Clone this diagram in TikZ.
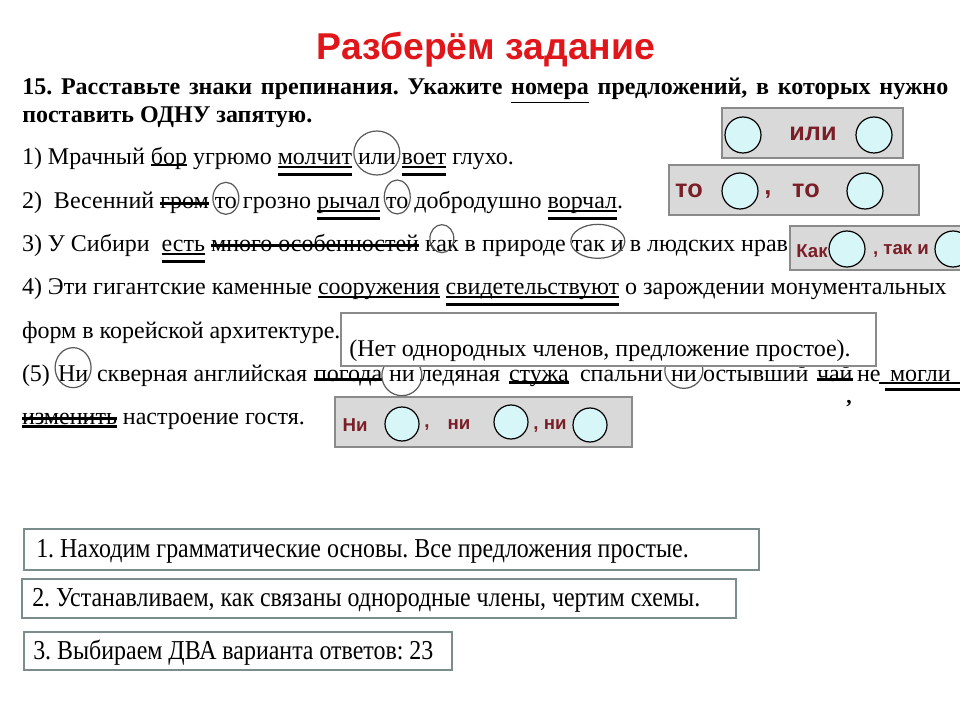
\documentclass[tikz,border=0pt]{standalone}
\usepackage{fontspec}
\setmainfont{Liberation Serif}
\newfontfamily\arialf{Liberation Sans}
\newfontfamily\condf[FakeStretch=0.875]{Liberation Serif}
\usetikzlibrary{shapes.geometric}
\definecolor{titlered}{HTML}{E0161B}
\definecolor{maroonc}{HTML}{7A1F27}
\definecolor{boxgray}{HTML}{D9D9D9}
\definecolor{boxedge}{HTML}{8A8A8A}
\definecolor{bubblec}{HTML}{D6F6F8}
\definecolor{stepedge}{HTML}{7A8C8C}
\frenchspacing
\newcommand\wsp{\ \null}
\newcommand\sline[2]{\draw[ul] ([yshift=#2]#1.base west) -- ([yshift=#2]#1.base east);}
\newcommand\dline[1]{\sline{#1}{-1.5pt}\sline{#1}{-7pt}}
\begin{document}
\begin{tikzpicture}[x=0.75pt,y=-0.75pt,
  w/.style={anchor=base west, inner sep=0pt, outer sep=0pt, font=\fontsize{18}{22}\selectfont},
  ul/.style={line width=1.8pt, black},
  oval/.style={draw=black!65, line width=0.9pt},
  schbox/.style={draw=boxedge, fill=boxgray, line width=1.2pt},
  bub/.style={circle, draw=black, fill=bubblec, line width=0.9pt, inner sep=0pt, minimum size=27pt},
  schtxt/.style={text=maroonc, font=\arialf\bfseries\fontsize{19}{22}\selectfont, inner sep=0pt},
  smtxt/.style={text=maroonc, font=\arialf\bfseries\fontsize{14}{17}\selectfont, inner sep=0pt},
  stepbox/.style={draw=stepedge, fill=white, line width=1pt},
  steptxt/.style={anchor=west, inner sep=0pt, font=\condf\fontsize{20.5}{24}\selectfont}
]
\fill[white] (0,0) rectangle (960,720);
\clip (0,0) rectangle (960,720);

% title
\node[font=\arialf\bfseries\fontsize{28}{32}\selectfont, text=titlered] (title) at (486,50) {Разберём задание};

% header
\node[anchor=base west, inner sep=0pt, font=\bfseries\fontsize{18}{22}\selectfont] (h1) at (22,95)
  {\makebox[694.5pt][s]{15. Расставьте знаки препинания. Укажите \underline{номера} предложений, в которых нужно}};
\node[anchor=base west, inner sep=0pt, font=\bfseries\fontsize{18}{22}\selectfont] (h2) at (22,123) {поставить ОДНУ запятую.};

% sentence 1
\node[w] (s1a) at (22,165) {1) Мрачный\wsp};
\node[w] (s1bor) at (s1a.base east) {бор};
\node[w] (s1b) at (s1bor.base east) {\ угрюмо\wsp};
\node[w] (s1mol) at (s1b.base east) {молчит};
\node[w] (s1ili) at (s1mol.base east) {\ или\wsp};
\node[w] (s1voet) at (s1ili.base east) {воет};
\node[w] (s1c) at (s1voet.base east) {\ глухо.};
\sline{s1bor}{0pt}
\dline{s1mol}
\dline{s1voet}
\draw[oval] ([yshift=9pt]s1ili.base) ellipse [x radius=23, y radius=22];

% sentence 2
\node[w] (s2a) at (22,209) {2)\ \ Весенний\wsp};
\node[w] (s2grom) at (s2a.base east) {гром};
\node[w] (s2to1) at (s2grom.base east) {\ то\wsp};
\node[w] (s2b) at (s2to1.base east) {грозно\wsp};
\node[w] (s2ryc) at (s2b.base east) {рычал};
\node[w] (s2to2) at (s2ryc.base east) {\ то\wsp};
\node[w] (s2c) at (s2to2.base east) {добродушно\wsp};
\node[w] (s2vor) at (s2c.base east) {ворчал};
\node[w] (s2d) at (s2vor.base east) {.};
\sline{s2grom}{4pt}
\dline{s2ryc}
\dline{s2vor}
\draw[oval] ([yshift=8pt]s2to1.base) ellipse [x radius=13, y radius=16];
\draw[oval] ([yshift=9pt]s2to2.base) ellipse [x radius=13, y radius=17];

% sentence 3
\node[w] (s3a) at (22,252) {3) У Сибири\ \wsp};
\node[w] (s3est) at (s3a.base east) {есть};
\node[w] (s3sp) at (s3est.base east) {\wsp};
\node[w] (s3mn) at (s3sp.base east) {много особенностей};
\node[w] (s3kak) at (s3mn.base east) {\ как\wsp};
\node[w] (s3b) at (s3kak.base east) {в природе\wsp};
\node[w] (s3tak) at (s3b.base east) {так и};
\node[w] (s3c) at (s3tak.base east) {\ в людских нрав};
\dline{s3est}
\sline{s3mn}{5pt}
\draw[oval] ([yshift=10pt]s3kak.base) ellipse [x radius=12, y radius=14];
\draw[oval] ([yshift=8pt]s3tak.base) ellipse [x radius=27, y radius=17];

% sentence 4
\node[w] (s4a) at (22,295) {4) Эти гигантские каменные\wsp};
\node[w] (s4soor) at (s4a.base east) {сооружения};
\node[w] (s4sp) at (s4soor.base east) {\wsp};
\node[w] (s4svid) at (s4sp.base east) {свидетельствуют};
\node[w] (s4b) at (s4svid.base east) {\ о зарождении монументальных};
\sline{s4soor}{-1.5pt}
\dline{s4svid}
\node[w] (s4c) at (22,338) {форм в корейской архитектуре.};

% sentence 5 (justified line: words at fixed places)
\node[w] (s5a) at (22,381) {(5)};
\node[w] (s5ni1) at (58,381) {Ни};
\node[w] (s5b) at (97,381) {скверная английская};
\node[w] (s5pog) at (314,381) {погода};
\node[w] (s5ni2) at (389,381) {ни};
\node[w] (s5c) at (420,381) {ледяная};
\node[w] (s5stu) at (509,381) {стужа};
\node[w] (s5d) at (580,381) {спальни};
\node[w] (s5ni3) at (671,381) {ни};
\node[w] (s5e) at (703,381) {остывший};
\node[w] (s5chai) at (817,381) {чай};
\node[w] (s5ne) at (857,381) {не};
\node[w] (s5mog) at (890,381) {могли};
\sline{s5pog}{1pt}
\sline{s5stu}{-1pt}
\sline{s5chai}{1pt}
\coordinate (mogend) at (962,381);
\draw[ul] ([yshift=-1.5pt,xshift=-8pt]s5mog.base west) -- ([yshift=-1.5pt]mogend);
\draw[ul] ([yshift=-6.5pt,xshift=-4pt]s5mog.base west) -- ([yshift=-6.5pt]mogend);
\draw[oval] ([yshift=10pt]s5ni1.base) ellipse [x radius=18, y radius=20];
\draw[oval] ([yshift=4pt]s5ni2.base) ellipse [x radius=20, y radius=20];
\draw[oval] ([yshift=8pt]s5ni3.base) ellipse [x radius=19, y radius=18];

\node[w] (s6a) at (22,424) {изменить};
\node[w] (s6b) at (s6a.base east) {\ настроение гостя.};
\sline{s6a}{4pt}
\sline{s6a}{-2pt}

% scheme: или
\draw[schbox] (722,108) rectangle (903,158);
\node[bub] (b1l) at (743,135) {};
\node[bub] (b1r) at (874,135) {};
\node[schtxt] (t1) at (813,134) {или};

% scheme: то , то
\draw[schbox] (669,165) rectangle (919,215);
\node[schtxt] (t2a) at (689,191) {то};
\node[bub] (b2l) at (740,191) {};
\node[schtxt] (t2c) at (768,195) {,};
\node[schtxt] (t2b) at (806,191) {то};
\node[bub] (b2r) at (865,191) {};

% scheme: как , так и
\draw[schbox] (790,226) rectangle (965,270);
\node[smtxt] (t3a) at (812,251) {Как};
\node[bub] (b3l) at (847,249) {};
\node[smtxt] (t3b) at (901,251) {, так и};
\node[bub] (b3r) at (953,249) {};

% note box
\draw[draw=boxedge, fill=white, line width=1pt] (341,313) rectangle (876,366);
\node[inner sep=0pt, font=\fontsize{18}{21}\selectfont] (note) at (600,351) {(Нет однородных членов, предложение простое).};

% scheme: ни , ни , ни
\draw[schbox] (335,397) rectangle (632,447);
\node[smtxt] (t4a) at (355,425) {Ни};
\node[bub, minimum size=25.5pt] (b4a) at (402,424) {};
\node[smtxt] (t4c1) at (427,428) {,};
\node[smtxt] (t4b) at (459,425) {ни};
\node[bub, minimum size=25.5pt] (b4b) at (511,422) {};
\node[smtxt] (t4c) at (550,426) {, ни};
\node[bub, minimum size=25.5pt] (b4c) at (590,425) {};

\node[inner sep=0pt, font=\bfseries\fontsize{16}{18}\selectfont] (comma) at (849,404) {,};

% steps
\draw[stepbox] (24,529) rectangle (759,570);
\node[steptxt] (st1) at (36,551) {1. Находим грамматические основы. Все предложения простые.};
\draw[stepbox] (22,579) rectangle (736,618);
\node[steptxt] (st2) at (32,600) {2. Устанавливаем, как связаны однородные члены, чертим схемы.};
\draw[stepbox] (24,632) rectangle (452,670);
\node[steptxt] (st3) at (33,653) {3. Выбираем ДВА варианта ответов: 23};
\end{tikzpicture}
\end{document}
